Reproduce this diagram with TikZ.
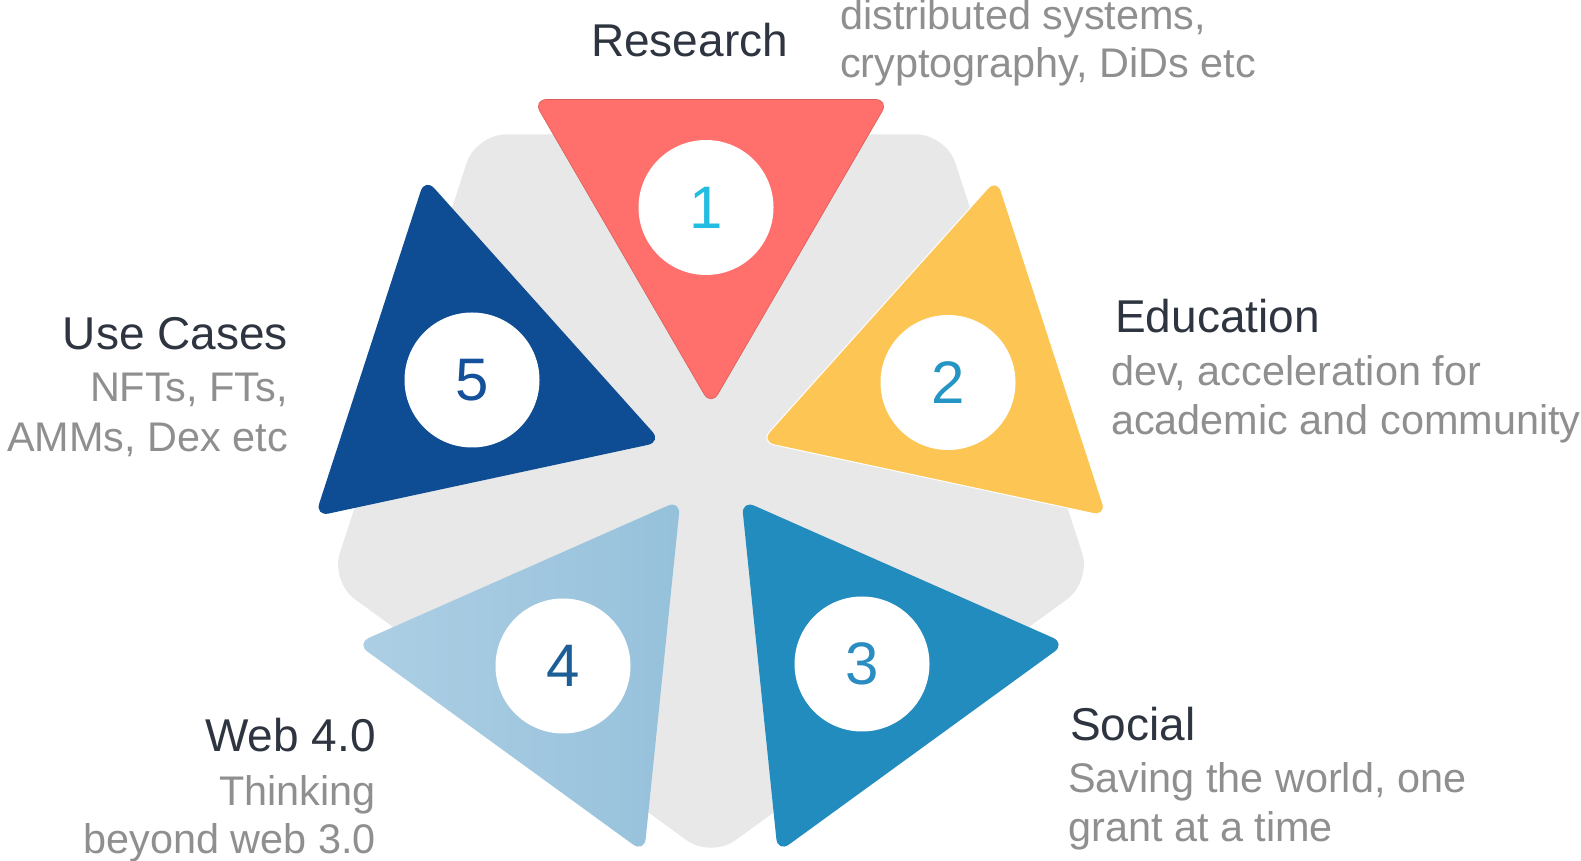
\documentclass[tikz,border=0pt]{standalone}
\usepackage{fontspec}
\setmainfont{Liberation Sans}
\usetikzlibrary{calc}
\definecolor{greyc}{HTML}{E8E8E8}
\definecolor{triA}{HTML}{FF6F6B}
\definecolor{triB}{HTML}{FDC553}
\definecolor{triC}{HTML}{238CBE}
\definecolor{triDl}{HTML}{ADCFE4}
\definecolor{triDr}{HTML}{96C1DB}
\definecolor{triE}{HTML}{0E4D94}
\definecolor{numA}{HTML}{22BDE0}
\definecolor{numB}{HTML}{2596C4}
\definecolor{numC}{HTML}{2A8CC0}
\definecolor{numD}{HTML}{1C5E95}
\definecolor{numE}{HTML}{15509A}
\definecolor{titlec}{HTML}{2E3540}
\definecolor{descc}{HTML}{8F8F8F}
\begin{document}
\begin{tikzpicture}[x=1pt,y=1pt,
  titletext/.style={inner sep=0pt, text=titlec, font=\fontsize{46}{50}\selectfont},
  desctext/.style={inner sep=0pt, text=descc, font=\fontsize{41.4}{49}\selectfont},
  numdisc/.style={circle, fill=white, minimum size=135pt, inner sep=0pt, font=\fontsize{60}{60}\selectfont},
  tri/.style={rounded corners=14pt}]
\useasboundingbox (0,0) rectangle (1581,861);
\coordinate (C) at (711,403);
% grey pentagon
\fill[greyc, rounded corners=30pt] ($(C)+(54:400)$) -- ($(C)+(126:400)$) -- ($(C)+(198:400)$) -- ($(C)+(270:400)$) -- ($(C)+(342:400)$) -- cycle;
% triangles
\foreach \a/\c in {90/triA, 18/triB, -54/triC, 162/triE}{
  \fill[\c, tri] ($(C)+(\a:52)$) -- ($(C)+(\a+26.4:400.3)$) -- ($(C)+(\a-26.4:400.3)$) -- cycle;
}
\shade[tri, left color=triDl, right color=triDr] ($(C)+(-126:52)$) -- ($(C)+(-126+26.4:400.3)$) -- ($(C)+(-126-26.4:400.3)$) -- cycle;
\draw[triA!85!black, line width=0.6pt, tri] ($(C)+(90:52)$) -- ($(C)+(90+26.4:400.3)$) -- ($(C)+(90-26.4:400.3)$) -- cycle;
\draw[white, line width=1pt, tri] ($(C)+(18:52)$) -- ($(C)+(18+26.4:400.3)$) -- ($(C)+(18-26.4:400.3)$) -- cycle;
% number discs
\node[numdisc, text=numA] (n1) at (706,653.5) {1};
\node[numdisc, text=numB] (n2) at (948,478.5) {2};
\node[numdisc, text=numC] (n3) at (862,197) {3};
\node[numdisc, text=numD] (n4) at (563,195) {4};
\node[numdisc, text=numE] (n5) at (472,481) {5};
% labels
\node[titletext, anchor=base west] (t1) at (591,804) {Research};
\node[desctext, anchor=base west] (d1a) at (840,831) {distributed systems,};
\node[desctext, anchor=base west] (d1b) at (840,783) {cryptography, DiDs etc};
\node[titletext, anchor=base west] (t2) at (1115,528) {Education};
\node[desctext, anchor=base west] (d2a) at (1111,475) {dev, acceleration for};
\node[desctext, anchor=base west] (d2b) at (1111,426) {academic and community};
\node[titletext, anchor=base west] (t3) at (1070,120) {Social};
\node[desctext, anchor=base west] (d3a) at (1068,68) {Saving the world, one};
\node[desctext, anchor=base west] (d3b) at (1068,19) {grant at a time};
\node[titletext, anchor=base east] (t4) at (376,109) {Web 4.0};
\node[desctext, anchor=base east] (d4a) at (376,55) {Thinking};
\node[desctext, anchor=base east] (d4b) at (376,7) {beyond web 3.0};
\node[titletext, anchor=base east] (t5) at (288,511) {Use Cases};
\node[desctext, anchor=base east] (d5a) at (288,459) {NFTs, FTs,};
\node[desctext, anchor=base east] (d5b) at (288,409) {AMMs, Dex etc};
\end{tikzpicture}
\end{document}
